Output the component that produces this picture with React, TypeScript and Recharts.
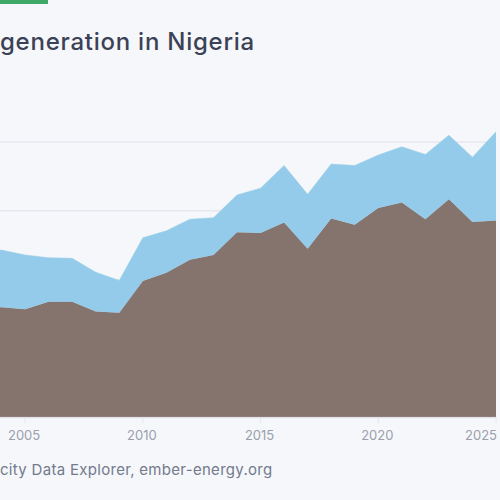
import React from "react";
import { AreaChart, Area, XAxis, YAxis, CartesianGrid } from "recharts";

const years = [2003, 2004, 2005, 2006, 2007, 2008, 2009, 2010, 2011, 2012, 2013, 2014, 2015, 2016, 2017, 2018, 2019, 2020, 2021, 2022, 2023, 2024, 2025];
const gas = [15.9, 16.0, 15.7, 16.8, 16.8, 15.4, 15.2, 19.8, 21.0, 22.9, 23.6, 26.9, 26.8, 28.3, 24.5, 28.9, 28.0, 30.4, 31.2, 28.8, 31.7, 28.4, 28.6];
const hydro = [8.6, 8.3, 7.9, 6.4, 6.3, 5.7, 4.7, 6.3, 6.1, 5.9, 5.4, 5.4, 6.5, 8.3, 7.9, 7.9, 8.6, 7.7, 8.1, 9.4, 9.3, 9.4, 12.9];
const xTicks = [2005, 2010, 2015, 2020, 2025];
const yTicks = [0, 10, 20, 30, 40];
const titleText = "generation in Nigeria";
const sourceText = "city Data Explorer, ember-energy.org";

const rows = years.map((year, i) => ({ year, gas: gas[i], hydro: hydro[i] }));
const FONT = "Inter, 'Open Sans', sans-serif";

function YearTick(props: any) {
  const { x, y, payload } = props;
  const last = payload.value === 2025;
  return (
    <text x={last ? x + 1 : x - 1} y={y + 15} textAnchor={last ? "end" : "middle"} fontFamily={FONT} fontSize={13} fill="#9a9fab">
      {payload.value}
    </text>
  );
}

export default function App() {
  return (
    <div style={{ position: "absolute", left: 0, top: 0, width: 500, height: 500, overflow: "hidden", background: "#f5f7fb" }}>
      <div style={{ position: "absolute", left: 0, top: 0, width: 48, height: 4, background: "#3fa968" }} />
      <div style={{ position: "absolute", left: 0, top: 27, whiteSpace: "nowrap", fontFamily: FONT, fontSize: 24, fontWeight: 500, letterSpacing: 0.75, color: "#3b4255", lineHeight: "30px" }}>
        {titleText}
      </div>
      <div style={{ position: "absolute", left: 0, top: 460, whiteSpace: "nowrap", fontFamily: FONT, fontSize: 15, letterSpacing: 0.3, color: "#737a8c", lineHeight: "20px" }}>
        {sourceText}
      </div>
      <div style={{ position: "absolute", left: -22, top: 0 }}>
        <AreaChart width={522} height={500} data={rows} margin={{ top: 107.6, right: 4, bottom: 52.6, left: 0 }}>
          <CartesianGrid horizontal vertical={false} syncWithTicks stroke="#e6e8ee" strokeWidth={1.5} />
          <XAxis
            dataKey="year"
            type="number"
            domain={[2003, 2025]}
            ticks={xTicks}
            height={30}
            axisLine={{ stroke: "#e6e8ee" }}
            tickLine={{ stroke: "#e6e8ee" }}
            tickSize={6}
            tick={<YearTick />}
            interval={0}
          />
          <YAxis hide type="number" domain={[0, 45]} ticks={yTicks} />
          <Area dataKey="gas" stackId="a" type="linear" fill="#85736e" fillOpacity={1} stroke="#85736e" strokeWidth={0.5} isAnimationActive={false} />
          <Area dataKey="hydro" stackId="a" type="linear" fill="#94cbea" fillOpacity={1} stroke="#94cfe4" strokeWidth={0.5} isAnimationActive={false} />
        </AreaChart>
      </div>
    </div>
  );
}
